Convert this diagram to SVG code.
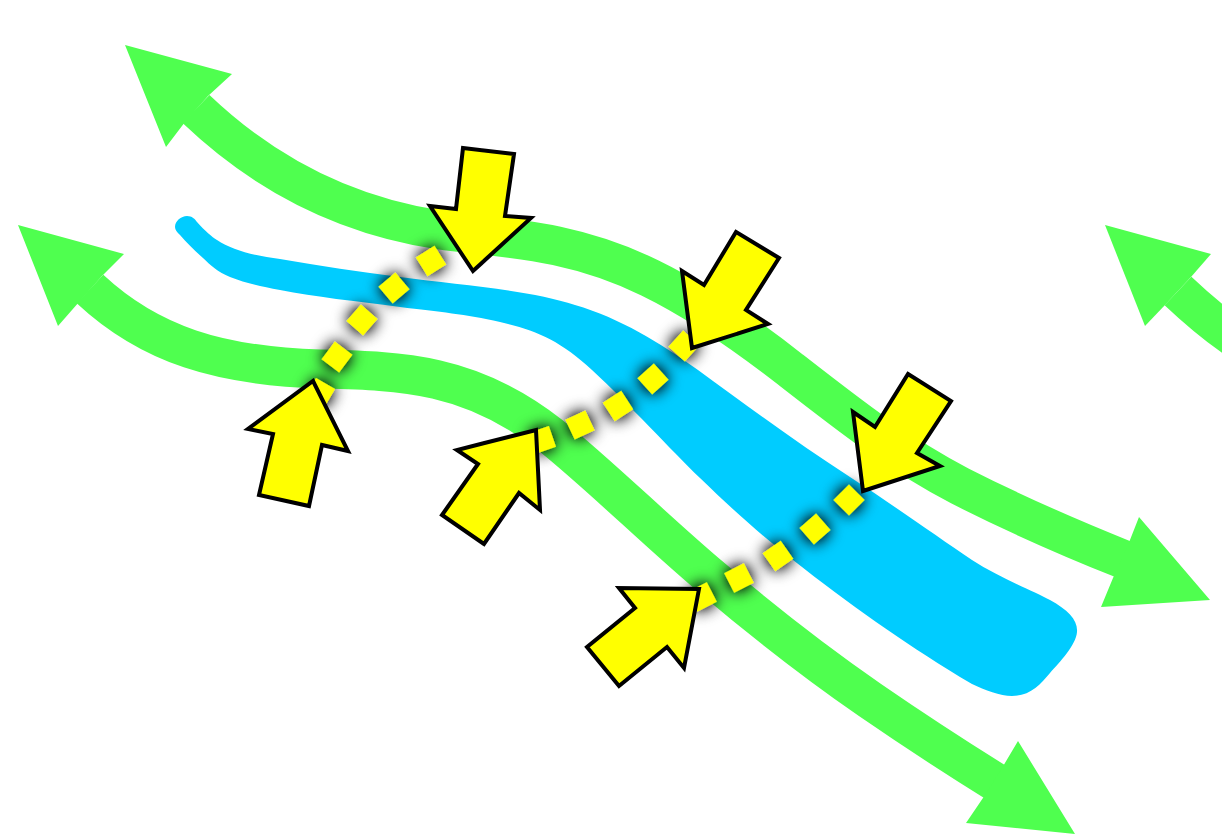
<svg xmlns="http://www.w3.org/2000/svg" width="1222" height="836" viewBox="0 0 1222 836">
<defs>
<style>
.shaft{fill:none;stroke:#4fff4f;stroke-width:39}
.head{fill:#4fff4f}
.river{fill:#00ccff}
.dot{fill:#ffff00}
.arrow{fill:#ffff00;stroke:#000;stroke-width:4;stroke-miterlimit:10}
</style>
<filter id="glow" filterUnits="userSpaceOnUse" x="250" y="200" width="680" height="460">
<feGaussianBlur in="SourceAlpha" stdDeviation="8" result="b"/>
<feComponentTransfer in="b" result="s"><feFuncA type="linear" slope="1.4"/></feComponentTransfer>
<feMerge><feMergeNode in="s"/><feMergeNode in="SourceGraphic"/></feMerge>
</filter>
<rect id="sq" x="-11" y="-11" width="22" height="22"/>
</defs>
<rect width="1222" height="836" fill="#fff"/>
<g id="connectors">
<g id="flow-top">
<path class="shaft" d="M196 109C260 170 340 215 440 230C490 238 565 236 650 278C695 300 745 334 791 370C850 416 900 455 960 486C1015 514 1070 538 1125 560"/>
<polygon class="head" points="125,45 232,74 208,96 185,122 166,147"/>
<polygon class="head" points="1210,600 1139,517 1128,545 1113,578 1101,607"/>
</g>
<g id="flow-bottom">
<path class="shaft" d="M90 289C150 345 220 366 320 369C400 371 470 372 550 435C600 475 655 530 712 578C765 623 815 662 870 700C915 731 955 757 1000 785"/>
<polygon class="head" points="18,225 124,254 102,276 79,302 58,326"/>
<polygon class="head" points="1075,834 1018,741 1002,768 985,795 966,823"/>
</g>
<g id="flow-right">
<path class="shaft" d="M1178 291C1197 309 1218 327 1245 345"/>
<polygon class="head" points="1105,225 1211,254 1191,277 1165,305 1145,326"/>
</g>
</g>
<path id="river" class="river" d="M175 227C175 221 181 216 187 216C192 216 195 219 197 222C205 231 212 237 217 240C232 250 255 256 280 259C320 266 360 272 400 277C460 285 530 290 575 305C620 318 660 343 698 370C750 408 800 445 850 477C890 503 935 535 972 560C1000 578 1035 592 1050 600C1068 610 1078 620 1077 632C1076 645 1060 662 1050 673C1040 685 1030 696 1012 696C1000 696 985 690 972 684C968 682 964 679 960 677C900 640 850 605 793 560C755 530 730 507 700 478C670 449 630 405 592 370C560 340 535 330 500 322C465 314 440 312 400 307C355 301 315 297 280 290C260 286 245 283 230 277C218 272 210 265 203 258C195 251 187 243 180 235C177 232 175 230 175 227Z"/>
<g id="dots" class="dot" filter="url(#glow)">
<use href="#sq" transform="translate(431 261) rotate(-32)"/>
<use href="#sq" transform="translate(394 288) rotate(-40)"/>
<use href="#sq" transform="translate(362 320) rotate(-49)"/>
<use href="#sq" transform="translate(337 357) rotate(-53)"/>
<use href="#sq" transform="translate(320 393) rotate(-60)"/>
<use href="#sq" transform="translate(542 440) rotate(-19)"/>
<use href="#sq" transform="translate(580 425) rotate(-25)"/>
<use href="#sq" transform="translate(618 406) rotate(-33)"/>
<use href="#sq" transform="translate(653 379) rotate(-42)"/>
<use href="#sq" transform="translate(684 346) rotate(-48)"/>
<use href="#sq" transform="translate(849 500) rotate(-45)"/>
<use href="#sq" transform="translate(815 529) rotate(-41)"/>
<use href="#sq" transform="translate(778 556) rotate(-35)"/>
<use href="#sq" transform="translate(739 578) rotate(-27)"/>
<use href="#sq" transform="translate(702 597) rotate(-27)"/>
</g>
<g id="arrow-1"><polygon class="arrow" points="463,148 514,154 505,216 531,218 473,271 430,206 456,209"/></g>
<g id="arrow-2"><polygon class="arrow" points="313,381 348,451 322,445 309,506 259,495 273,434 248,429"/></g>
<g id="arrow-3"><polygon class="arrow" points="536,430 540,510 519,493 484,544 442,515 478,464 457,450"/></g>
<g id="arrow-4"><polygon class="arrow" points="736,232 779,258 746,310 768,324 692,348 682,271 704,285"/></g>
<g id="arrow-5"><polygon class="arrow" points="908,374 951,401 917,453 940,466 863,491 853,412 875,427"/></g>
<g id="arrow-6"><polygon class="arrow" points="699,589 684,668 667,647 619,686 587,647 635,608 619,588"/></g>
</svg>
